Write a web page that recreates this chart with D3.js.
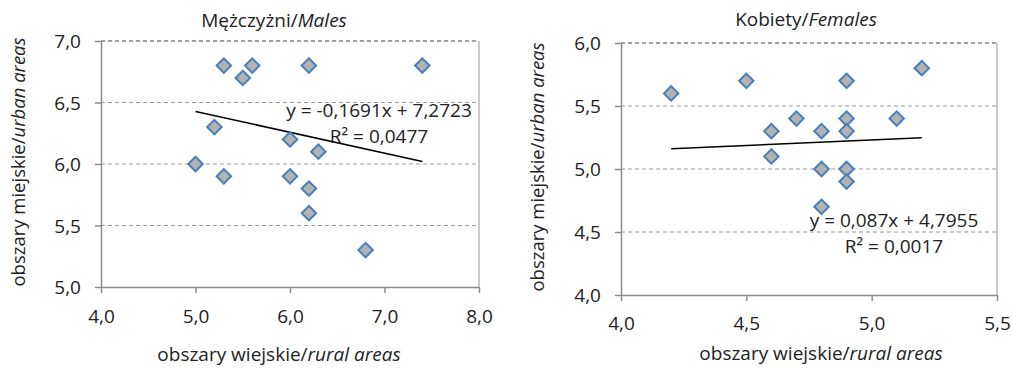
<!DOCTYPE html>
<html>
<head>
<meta charset="utf-8">
<script src="https://cdn.jsdelivr.net/npm/d3@7"></script>
<style>
  body { margin: 0; background: #fff; }
  text { font-family: "Open Sans", "Noto Sans", sans-serif; fill: #222; }
</style>
</head>
<body>
<svg id="Chartsvg" width="1012" height="368"></svg>
<script>
// Males (Mężczyżni)
var malesRural = [5.3, 5.6, 5.5, 6.2, 7.4, 5.2, 6.0, 6.3, 5.0, 5.3, 6.0, 6.2, 6.2, 6.8];
var malesUrban = [6.8, 6.8, 6.7, 6.8, 6.8, 6.3, 6.2, 6.1, 6.0, 5.9, 5.9, 5.8, 5.6, 5.3];
var malesTrend = [-0.1691, 7.2723];
var malesEq = ["y = -0,1691x + 7,2723", "R² = 0,0477"];
var malesXTicks = [4.0, 5.0, 6.0, 7.0, 8.0];
var malesYTicks = [5.0, 5.5, 6.0, 6.5, 7.0];

// Females (Kobiety)
var femalesRural = [4.2, 4.5, 4.9, 5.2, 4.7, 4.9, 5.1, 4.6, 4.8, 4.9, 4.6, 4.8, 4.9, 4.9, 4.8];
var femalesUrban = [5.6, 5.7, 5.7, 5.8, 5.4, 5.4, 5.4, 5.3, 5.3, 5.3, 5.1, 5.0, 5.0, 4.9, 4.7];
var femalesTrend = [0.087, 4.7955];
var femalesEq = ["y = 0,087x + 4,7955", "R² = 0,0017"];
var femalesXTicks = [4.0, 4.5, 5.0, 5.5];
var femalesYTicks = [4.0, 4.5, 5.0, 5.5, 6.0];

var fmt = function(v) { return d3.format(".1f")(v).replace(".", ","); };
var svg = d3.select("#Chartsvg");
var FS = "19px";

function scatter(cfg) {
    var x = d3.scaleLinear().domain(d3.extent(cfg.xTicks)).range([cfg.left, cfg.right]);
    var y = d3.scaleLinear().domain(d3.extent(cfg.yTicks)).range([cfg.bottom, cfg.top]);
    var g = svg.append("g");

    // gridlines
    g.selectAll("line.grid").data(cfg.yTicks.slice(1)).enter().append("line")
        .attr("x1", cfg.left).attr("x2", cfg.right)
        .attr("y1", function(d) { return y(d); }).attr("y2", function(d) { return y(d); })
        .attr("stroke", function(d, i) { return i == cfg.yTicks.length - 2 ? "#444" : "#9a9a9a"; })
        .attr("stroke-width", 1.2)
        .attr("stroke-dasharray", "4,3");
    // right border
    g.append("line").attr("x1", cfg.right).attr("x2", cfg.right)
        .attr("y1", cfg.top).attr("y2", cfg.bottom).attr("stroke", "#a6a6a6").attr("stroke-width", 1.2);

    // axes
    var xa = g.append("g").attr("transform", "translate(0," + cfg.bottom + ")")
        .call(d3.axisBottom(x).tickValues(cfg.xTicks).tickFormat(fmt).tickSize(6).tickSizeOuter(0));
    var ya = g.append("g").attr("transform", "translate(" + cfg.left + ",0)")
        .call(d3.axisLeft(y).tickValues(cfg.yTicks).tickFormat(fmt).tickSize(6).tickSizeOuter(0));
    [xa, ya].forEach(function(a) {
        a.select(".domain").attr("stroke", "#8c8c8c").attr("stroke-width", 1.5);
        a.selectAll(".tick line").attr("stroke", "#8c8c8c").attr("stroke-width", 1.5);
        a.selectAll("text").style("font-size", FS).attr("fill", "#222")
            .style("font-family", '"Open Sans", sans-serif');
    });
    xa.selectAll("text").attr("y", cfg.xTickDy).attr("dy", 0);
    ya.selectAll("text").attr("x", cfg.yTickDx).attr("dy", "0.35em");

    // trendline
    var xr = d3.extent(cfg.xs);
    g.append("line")
        .attr("x1", x(xr[0])).attr("y1", y(cfg.trend[0] * xr[0] + cfg.trend[1]))
        .attr("x2", x(xr[1])).attr("y2", y(cfg.trend[0] * xr[1] + cfg.trend[1]))
        .attr("stroke", "#000").attr("stroke-width", 1.5);

    // points
    var pts = cfg.xs.map(function(d, i) { return [d, cfg.ys[i]]; });
    g.selectAll("path.pt").data(pts).enter().append("path")
        .attr("d", d3.symbol().type(d3.symbolSquare).size(105))
        .attr("transform", function(d) { return "translate(" + x(d[0]) + "," + y(d[1]) + ") rotate(45)"; })
        .attr("fill", "#b2b2b2").attr("stroke", "#4a7ebb").attr("stroke-width", 2);

    // equation
    g.append("text").attr("x", cfg.eqX).attr("y", cfg.eqY).attr("text-anchor", "middle")
        .style("font-size", FS).text(cfg.eq[0]);
    g.append("text").attr("x", cfg.eqX).attr("y", cfg.eqY + 26).attr("text-anchor", "middle")
        .style("font-size", FS).text(cfg.eq[1]);

    // title
    var t = g.append("text").attr("x", cfg.titleX).attr("y", cfg.titleY).attr("text-anchor", "middle")
        .style("font-size", FS);
    t.append("tspan").text(cfg.title[0]);
    t.append("tspan").style("font-style", "italic").text(cfg.title[1]);

    // axis titles
    var xt = g.append("text").attr("x", cfg.xLabX).attr("y", cfg.xLabY).attr("text-anchor", "middle")
        .style("font-size", FS);
    xt.append("tspan").text("obszary wiejskie/");
    xt.append("tspan").style("font-style", "italic").text("rural areas");
    var yt = g.append("text").attr("transform", "translate(" + cfg.yLabX + "," + cfg.yLabY + ") rotate(-90)")
        .attr("text-anchor", "middle").style("font-size", "18.5px");
    yt.append("tspan").text("obszary miejskie/");
    yt.append("tspan").style("font-style", "italic").text("urban areas");
}

scatter({
    xs: malesRural, ys: malesUrban, trend: malesTrend, eq: malesEq,
    xTicks: malesXTicks, yTicks: malesYTicks,
    left: 101, right: 479, top: 41, bottom: 287,
    xTickDy: 36, yTickDx: -20,
    eqX: 379, eqY: 117,
    title: ["Mężczyżni/", "Males"], titleX: 274, titleY: 27,
    xLabX: 279, xLabY: 361, yLabX: 25, yLabY: 162
});
scatter({
    xs: femalesRural, ys: femalesUrban, trend: femalesTrend, eq: femalesEq,
    xTicks: femalesXTicks, yTicks: femalesYTicks,
    left: 621, right: 997, top: 43, bottom: 295,
    xTickDy: 35, yTickDx: -20,
    eqX: 894, eqY: 227,
    title: ["Kobiety/", "Females"], titleX: 806, titleY: 26,
    xLabX: 821, xLabY: 360, yLabX: 544, yLabY: 167
});
</script>
</body>
</html>
